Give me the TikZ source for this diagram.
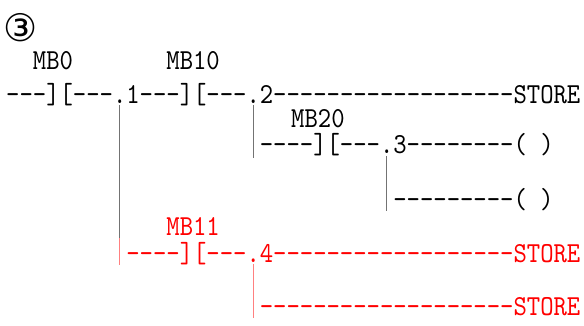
\documentclass[tikz,border=0pt]{standalone}
\usepackage{fontspec}
\usepackage{xcolor}
\newfontfamily\ladderfont{lmmono10-regular.otf}[FakeStretch=0.877]
\newfontfamily\symfont{DejaVu Sans}
\usetikzlibrary{positioning}

\begin{document}
\begin{tikzpicture}[x=1pt, y=-1pt,
                every node/.style={inner sep=0pt, anchor=base west,
                    font=\ladderfont\fontsize{29}{34}\selectfont},
                wire/.style={draw=black!55, line width=0.9pt},
                hotwire/.style={draw=red!50, line width=0.9pt},
                hot/.style={text=red}]
                \useasboundingbox (0,0) rectangle (584,326);
                \node[font=\symfont\fontsize{38}{40}\selectfont] (num) at (3,42) {③};
                % first rung with labels
                \node (mbzero)   at (32.7,70)     {MB0};
                \node (mbten)    at (166.2,70)    {MB10};
                \node (rungA)    at (6,103.5)     {---][---.1---][---.2------------------STORE};
                \node (mbtwenty) at (291,128)     {MB20};
                \node (rungB)    at (259.65,153.5){----][---.3--------( )};
                \node (rungC)    at (393.15,208.5){---------( )};
                % red branch
                \node[hot] (mbeleven) at (166.2,235)    {MB11};
                \node[hot] (rungD)    at (126.15,262)   {----][---.4------------------STORE};
                \node[hot] (rungE)    at (259.65,315)   {-------------------STORE};
                % junction points
                \coordinate (jA) at (119.5,105);
                \coordinate (jAred) at (119.5,238);
                \coordinate (jAend) at (119.5,265);
                \coordinate (jB) at (253,105);
                \coordinate (jBend) at (253,158);
                \coordinate (jC) at (386.5,156);
                \coordinate (jCend) at (386.5,211);
                \coordinate (jD) at (253,264);
                \coordinate (jDend) at (253,318);
                \draw[wire] (jA) -- (jAred);
                \draw[hotwire] (jAred) -- (jAend);
                \draw[wire] (jB) -- (jBend);
                \draw[wire] (jC) -- (jCend);
                \draw[hotwire] (jD) -- (jDend);
            \end{tikzpicture}
\end{document}
